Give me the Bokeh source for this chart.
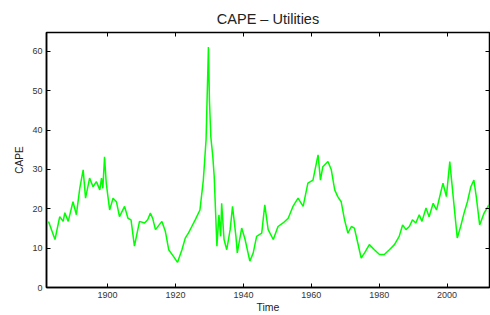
from bokeh.plotting import figure
from bokeh.models import LinearAxis, FixedTicker, Range1d
from bokeh.embed import file_html
from bokeh.resources import INLINE

years = [1882.6, 1884.5, 1885.9, 1886.9, 1887.4, 1888.4, 1889.8, 1890.8, 1891.8, 1892.8,
         1893.5, 1894.7, 1895.7, 1896.7, 1897.7, 1898.2, 1898.6, 1899.1, 1899.6, 1900.6,
         1901.6, 1902.6, 1903.5, 1905.0, 1906.0, 1906.9, 1907.9, 1909.4, 1910.9, 1911.8,
         1912.6, 1913.3, 1914.1, 1916.0, 1917.0, 1918.0, 1919.4, 1920.6, 1921.9, 1922.9,
         1923.8, 1924.8, 1925.8, 1927.2, 1928.2, 1929.0, 1929.7, 1930.0, 1930.4, 1931.0,
         1931.4, 1932.2, 1932.8, 1933.3, 1933.6, 1934.3, 1935.1, 1936.1, 1936.8, 1937.8,
         1938.2, 1939.5, 1940.5, 1941.9, 1942.9, 1943.9, 1945.4, 1946.3, 1947.3, 1948.8,
         1950.2, 1951.7, 1953.2, 1954.6, 1956.1, 1957.6, 1959.0, 1960.5, 1961.5, 1962.0,
         1962.7, 1963.4, 1964.9, 1965.9, 1966.9, 1967.8, 1968.8, 1969.8, 1970.8, 1971.8,
         1972.7, 1973.7, 1974.7, 1975.7, 1977.1, 1978.6, 1980.1, 1981.5, 1983.0, 1984.5,
         1985.9, 1986.9, 1987.9, 1988.9, 1989.8, 1990.8, 1991.8, 1992.6, 1993.8, 1994.7,
         1995.9, 1996.9, 1998.2, 1998.8, 1999.8, 2000.8, 2001.8, 2003.0, 2004.0, 2005.0,
         2006.0, 2007.0, 2007.9, 2008.6, 2009.6, 2010.9, 2011.8, 2012.3]
cape = [16.8, 12.2, 18.0, 16.8, 19.0, 16.8, 21.8, 18.5, 25.2, 29.9,
        22.7, 27.8, 25.6, 26.9, 24.8, 27.8, 25.2, 33.2, 26.5, 19.7,
        22.7, 21.8, 18.0, 20.6, 17.6, 17.2, 10.5, 16.8, 16.4, 17.2,
        18.9, 17.5, 14.7, 16.8, 14.3, 9.6, 7.9, 6.4, 9.6, 12.6,
        13.8, 15.5, 17.2, 19.7, 27.3, 37.5, 61.1, 47.6, 38.3, 33.2,
        28.2, 10.5, 18.5, 13.0, 21.4, 12.2, 9.6, 14.7, 20.6, 13.0,
        8.8, 15.1, 12.2, 6.7, 8.8, 13.0, 13.8, 21.0, 14.7, 12.2,
        15.5, 16.4, 17.6, 20.6, 22.7, 20.6, 26.5, 27.3, 31.6, 33.7,
        27.3, 30.7, 32.0, 29.9, 24.8, 23.1, 21.8, 17.2, 13.8, 15.5,
        15.1, 11.3, 7.5, 8.8, 10.9, 9.6, 8.4, 8.4, 9.6, 10.9,
        13.0, 15.9, 14.7, 15.5, 17.2, 16.4, 18.5, 16.8, 20.2, 18.0,
        21.4, 19.7, 24.4, 26.5, 23.1, 32.0, 23.1, 12.6, 15.5, 18.9,
        21.8, 25.6, 27.3, 23.1, 15.9, 18.9, 20.2, 21.0]

x_ticks = [1900, 1920, 1940, 1960, 1980, 2000]
y_ticks = [0, 10, 20, 30, 40, 50, 60]

FONT = "Liberation Sans"

p = figure(width=490, height=315, output_backend="svg", toolbar_location=None,
           x_range=Range1d(1882, 2012.5), y_range=Range1d(0, 64.8),
           title="CAPE \u2013 Utilities",
           min_border_left=46, min_border_right=1, min_border_top=32,
           min_border_bottom=27)

p.line(years, cape, line_color="#00ff00", line_width=1.5)

p.title.align = "center"
p.title.text_font = FONT
p.title.text_font_size = "14.5px"
p.title.text_font_style = "normal"
p.title.text_color = "#222222"
p.title.standoff = 12

p.grid.visible = False
p.outline_line_color = "black"
p.outline_line_width = 1.5
p.background_fill_color = "white"
p.border_fill_color = "white"

for ax in p.xaxis:
    ax.ticker = FixedTicker(ticks=x_ticks)
    ax.axis_label = "Time"
    ax.major_label_standoff = 4
    ax.axis_label_standoff = 0
    ax.axis_label_text_font_size = "10.5px"
for ax in p.yaxis:
    ax.ticker = FixedTicker(ticks=y_ticks)
    ax.axis_label = "CAPE"
    ax.major_label_standoff = 4
    ax.axis_label_standoff = 4
    ax.axis_label_text_font_size = "10px"

for ax in list(p.xaxis) + list(p.yaxis):
    ax.major_tick_in = 4
    ax.major_tick_out = 0
    ax.minor_tick_line_color = None
    ax.axis_line_color = "black"
    ax.axis_line_width = 1.5
    ax.major_tick_line_color = "black"
    ax.major_label_text_font = FONT
    ax.major_label_text_font_size = "9px"
    ax.major_label_text_color = "#333333"
    ax.axis_label_text_font = FONT
    ax.axis_label_text_font_style = "normal"
    ax.axis_label_text_color = "#222222"

top = LinearAxis(ticker=FixedTicker(ticks=x_ticks), major_tick_in=4, major_tick_out=0,
                 minor_tick_line_color=None, major_label_text_color=None,
                 major_label_text_font_size="1px", major_label_standoff=0,
                 axis_line_color=None)
right = LinearAxis(ticker=FixedTicker(ticks=y_ticks), major_tick_in=4, major_tick_out=0,
                   minor_tick_line_color=None, major_label_text_color=None,
                   major_label_text_font_size="1px", major_label_standoff=0,
                   axis_line_color=None)
p.add_layout(top, "above")
p.add_layout(right, "right")

open("out.html", "w").write(file_html(p, INLINE))
